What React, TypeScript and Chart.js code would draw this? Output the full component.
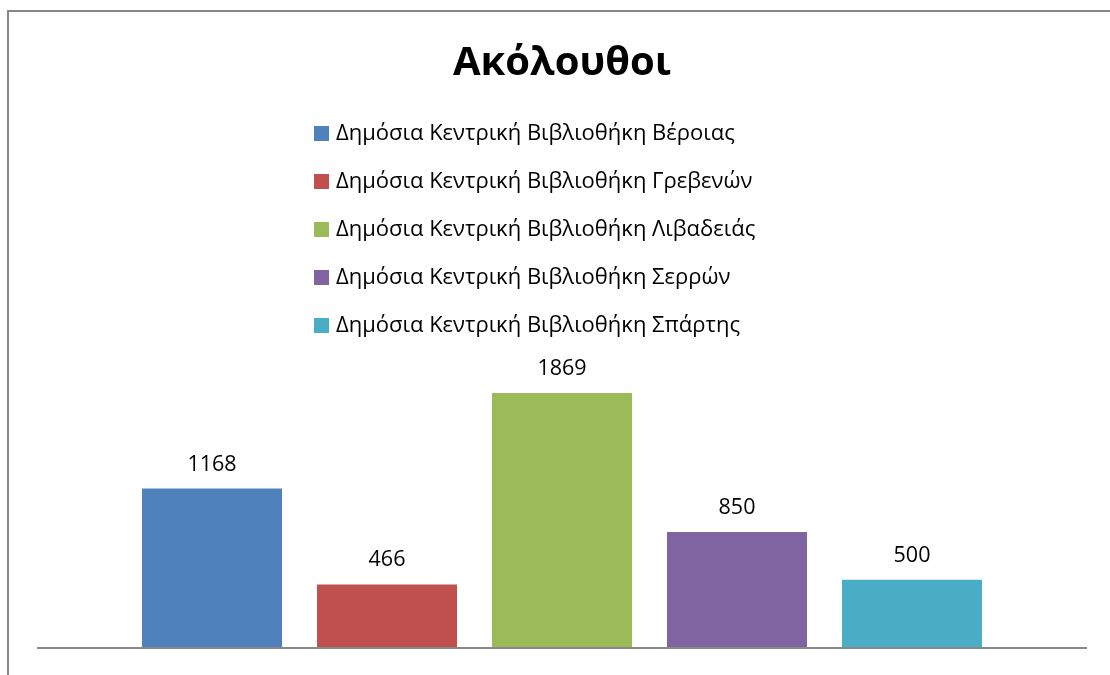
import React, { useEffect, useRef } from "react";
import { Chart, registerables } from "chart.js";

Chart.register(...registerables);

const title = "Ακόλουθοι";
const categories = [""];
const seriesNames = [
  "Δημόσια Κεντρική Βιβλιοθήκη Βέροιας",
  "Δημόσια Κεντρική Βιβλιοθήκη Γρεβενών",
  "Δημόσια Κεντρική Βιβλιοθήκη Λιβαδειάς",
  "Δημόσια Κεντρική Βιβλιοθήκη Σερρών",
  "Δημόσια Κεντρική Βιβλιοθήκη Σπάρτης",
];
const seriesValues = [1168, 466, 1869, 850, 500];
const seriesColors = ["#4F81BD", "#C0504D", "#9BBB59", "#8064A2", "#4BACC6"];

const FONT = "'Open Sans', 'Noto Sans', sans-serif";

const decorPlugin = {
  id: "decor",
  beforeDraw(chart: any) {
    const ctx = chart.ctx;
    ctx.save();
    ctx.fillStyle = "#ffffff";
    ctx.fillRect(0, 0, chart.width, chart.height);
    ctx.strokeStyle = "#878787";
    ctx.lineWidth = 2;
    ctx.beginPath();
    ctx.moveTo(8, chart.height);
    ctx.lineTo(8, 11);
    ctx.lineTo(chart.width, 11);
    ctx.stroke();
    ctx.restore();
  },
  afterDatasetsDraw(chart: any) {
    const ctx = chart.ctx;
    const area = chart.chartArea;
    const y0 = chart.scales.y.getPixelForValue(0);
    ctx.save();
    // baseline axis
    ctx.strokeStyle = "#898989";
    ctx.lineWidth = 2;
    ctx.beginPath();
    ctx.moveTo(area.left, y0);
    ctx.lineTo(area.right, y0);
    ctx.stroke();
    // data labels
    ctx.fillStyle = "#000000";
    ctx.font = `21.5px ${FONT}`;
    ctx.textAlign = "center";
    ctx.textBaseline = "alphabetic";
    chart.data.datasets.forEach((ds: any, i: number) => {
      const meta = chart.getDatasetMeta(i);
      meta.data.forEach((el: any, j: number) => {
        ctx.fillText(String(ds.data[j]), el.x, el.y - 18);
      });
    });
    // title
    ctx.font = `bold 40px ${FONT}`;
    ctx.fillText(title, (area.left + area.right) / 2, 75);
    // legend
    ctx.textAlign = "left";
    ctx.font = `22px ${FONT}`;
    chart.data.datasets.forEach((ds: any, i: number) => {
      const base = 140 + i * 48;
      ctx.fillStyle = ds.backgroundColor;
      ctx.fillRect(314, base - 14, 15, 15);
      ctx.fillStyle = "#000000";
      ctx.fillText(ds.label, 336, base);
    });
    ctx.restore();
  },
};

export default function App() {
  const ref = useRef<HTMLCanvasElement | null>(null);
  useEffect(() => {
    if (!ref.current) return;
    const chart = new Chart(ref.current, {
      type: "bar",
      data: {
        labels: categories,
        datasets: seriesNames.map((name, i) => ({
          label: name,
          data: [seriesValues[i]],
          backgroundColor: seriesColors[i],
          borderWidth: 0,
          categoryPercentage: 0.8333,
          barPercentage: 0.8,
        })),
      },
      options: {
        animation: false,
        responsive: false,
        layout: { padding: { left: 37, right: 23, top: 375, bottom: 27 } },
        plugins: {
          legend: { display: false },
          title: { display: false },
          tooltip: { enabled: false },
        },
        scales: {
          x: { display: false },
          y: { display: false, min: 0, max: 2000 },
        },
      },
      plugins: [decorPlugin],
    });
    return () => chart.destroy();
  }, []);
  return (
    <div style={{ position: "fixed", left: 0, top: 0, width: 1110, height: 675, background: "#fff" }}>
      <canvas ref={ref} width={1110} height={675} style={{ display: "block" }} />
    </div>
  );
}
